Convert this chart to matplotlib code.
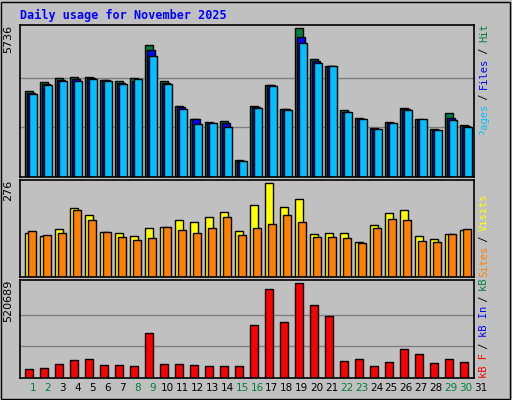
import matplotlib
matplotlib.use("Agg")
import matplotlib.pyplot as plt
from matplotlib.transforms import Bbox
import numpy as np

days = list(range(1, 32))
weekend = [1, 2, 8, 9, 15, 16, 22, 23, 29, 30]
hits = [3310, 3660, 3810, 3850, 3850, 3740, 3700, 3810, 5080, 3700, 2720, 2250, 2100, 2140, 660, 2720, 3540, 2600, 5736, 4560, 4260, 2560, 2290, 1900, 2100, 2640, 2250, 1860, 2480, 2020, 0]
files = [3230, 3580, 3740, 3770, 3800, 3740, 3600, 3700, 4890, 3620, 2680, 2250, 2060, 2060, 620, 2680, 3540, 2600, 5380, 4450, 4260, 2520, 2250, 1860, 2060, 2600, 2210, 1820, 2290, 1980, 0]
pages = [3190, 3540, 3700, 3700, 3770, 3700, 3580, 3770, 4660, 3580, 2600, 2040, 2060, 1940, 620, 2640, 3500, 2560, 5150, 4380, 4260, 2520, 2250, 1860, 2060, 2560, 2250, 1820, 2210, 1940, 0]
visits = [130, 121, 142, 203, 182, 133, 130, 121, 145, 148, 167, 161, 176, 191, 136, 212, 276, 206, 230, 127, 130, 130, 103, 151, 188, 197, 121, 112, 127, 139, 0]
sites = [136, 124, 130, 197, 167, 133, 118, 109, 115, 148, 139, 130, 145, 176, 124, 145, 155, 182, 161, 118, 118, 115, 100, 145, 170, 167, 106, 103, 127, 142, 0]
kbf = [47000, 53000, 76000, 98000, 104000, 70000, 70000, 64000, 246000, 76000, 76000, 70000, 64000, 64000, 64000, 291000, 489000, 308000, 520689, 400000, 338000, 93000, 104000, 64000, 87000, 161000, 132000, 83000, 104000, 87000, 0]

BG = "#c0c0c0"
W, H = 512, 400
fig = plt.figure(figsize=(W/100, H/100), dpi=100, facecolor=BG)
MONO = "DejaVu Sans Mono"
SLOT = 15.0
X0 = 20  # plot left px
X1 = 474
XMIN = 1 - 9/SLOT

fig.patches.append(plt.Rectangle((1/W, 1/H), 1-3/W, 1-3/H, transform=fig.transFigure,
                                 fill=False, edgecolor="black", lw=1))
fig.text(20/W, 1-15/H, "Daily usage for November 2025", color="#0000ff",
         fontfamily=MONO, fontweight="bold", fontsize=8.5, va="center")

def ax_at(top, bottom):
    ax = fig.add_axes([X0/W, 1-bottom/H, (X1-X0)/W, (bottom-top)/H], facecolor=BG)
    ax.set_xlim(XMIN, XMIN + (X1-X0)/SLOT)
    ax.set_xticks([])
    ax.set_yticks([])
    for s in ax.spines.values():
        s.set_linewidth(1.2)
    return ax

x = np.array(days)
ek = dict(edgecolor="black", linewidth=1)
BW = 8/SLOT

ax1 = ax_at(25, 177)
ymax1 = 5736
ax1.set_ylim(0, ymax1 * 1.02)
for g in (ymax1/3, 2*ymax1/3):
    ax1.axhline(g, color="#808080", lw=1, zorder=0)
ax1.bar(x, hits, BW, color="#008040", **ek)
ax1.bar(x + 0.13, files, BW, color="#0000ff", **ek)
ax1.bar(x + 0.27, pages, BW, color="#00c0ff", **ek)
ax1.text(-0.015, 1, "5736", transform=ax1.transAxes, rotation=90, ha="right", va="top", fontsize=8)

ax2 = ax_at(180, 277)
ymax2 = 276
ax2.set_ylim(0, ymax2 * 1.03)
ax2.bar(x, visits, BW, color="#ffff00", **ek)
ax2.bar(x + 0.2, sites, BW, color="#ff8000", **ek)
ax2.text(-0.015, 1, "276", transform=ax2.transAxes, rotation=90, ha="right", va="top", fontsize=8)

ax3 = ax_at(280, 378)
ymax3 = 520689
ax3.set_ylim(0, ymax3 * 1.03)
for g in (ymax3/3, 2*ymax3/3):
    ax3.axhline(g, color="#808080", lw=1, zorder=0)
ax3.bar(x, kbf, BW, color="#ff0000", **ek)
ax3.text(-0.015, 1, "520689", transform=ax3.transAxes, rotation=90, ha="right", va="top", fontsize=8)

for d in days:
    fig.text((33 + (d - 1) * 14.93) / W, 1-388/H, str(d), ha="center", va="center",
             fontsize=7.5, color="#008040" if d in weekend else "black")

def side(parts, top, bottom):
    clip = Bbox([[470, H - bottom], [500, H - top]])
    fy = 1 - bottom/H
    for txt, col in parts:
        t = fig.text(484/W, fy, txt, rotation=90, color=col, fontfamily=MONO,
                     fontsize=7.5, ha="center", va="bottom")
        t.set_clip_box(clip)
        t.set_clip_on(True)
        fy += len(txt) * 5.8 / H

side([("Pages", "#00c0ff"), (" / ", "black"), ("Files", "#0000ff"), (" / ", "black"), ("Hits", "#008040")], 25, 135)
side([("Sites", "#ff8000"), (" / ", "black"), ("Visits", "#ffff00")], 180, 277)
side([("kB F", "#ff0000"), (" / ", "black"), ("kB In", "#0000ff"), (" / ", "black"), ("kB Out", "#008040")], 280, 378)

fig.savefig("out.png", dpi=100, facecolor=BG)
